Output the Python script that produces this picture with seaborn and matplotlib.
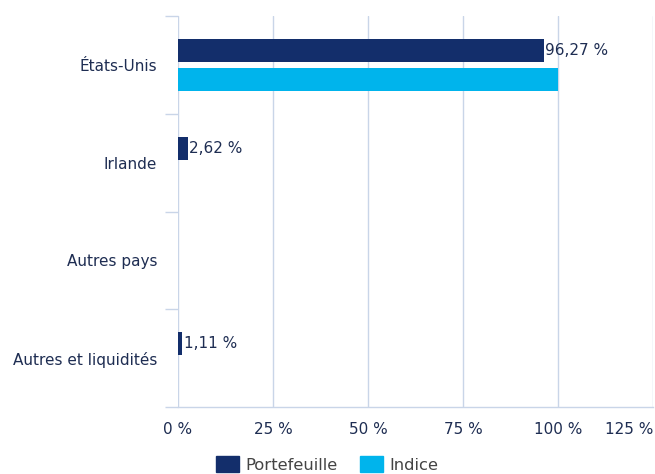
import matplotlib
matplotlib.use("Agg")
import matplotlib.pyplot as plt
import pandas as pd
import seaborn as sns

countries = ["États-Unis", "Irlande", "Autres pays", "Autres et liquidités"]
portefeuille = [96.27, 2.62, 0.0, 1.11]
indice = [100.0, 0.0, 0.0, 0.0]
series_names = ["Portefeuille", "Indice"]
x_ticks = [0, 25, 50, 75, 100, 125]

NAVY = "#132e6b"
CYAN = "#00b4ec"
TEXT = "#1e2d52"
GRID = "#c9d5e8"
FS = 11

sns.set_style("white")
plt.rcParams["font.family"] = ["DejaVu Sans"]

df = pd.DataFrame({
    "Pays": countries * 2,
    "Valeur": portefeuille + indice,
    "Série": [series_names[0]] * len(countries) + [series_names[1]] * len(countries),
})

fig = plt.figure(figsize=(6.55, 4.74), dpi=100)
ax = fig.add_axes([178 / 655, 1 - 407 / 474, 475 / 655, 391 / 474])

sns.barplot(data=df, y="Pays", x="Valeur", hue="Série", orient="h",
            palette=[NAVY, CYAN], width=0.59, gap=0.19, saturation=1,
            linewidth=0, legend=False, ax=ax)

ax.set_xlim(0, 125)
ax.set_ylim(3.5, -0.5)
ax.set_xticks(x_ticks)
ax.set_xticklabels([f"{t} %" for t in x_ticks])
ax.set_xlabel("")
ax.set_ylabel("")

ax.grid(axis="x", color=GRID, linewidth=1)
ax.grid(axis="y", visible=False)
ax.set_axisbelow(True)
for side in ["top", "right", "left"]:
    ax.spines[side].set_visible(False)
ax.spines["bottom"].set_color(GRID)
ax.spines["bottom"].set_linewidth(1)

# category boundaries drawn as short outward ticks
ax.set_yticks([i - 0.5 for i in range(len(countries) + 1)], minor=True)
ax.tick_params(axis="y", which="minor", left=True, length=9.5, width=1, color=GRID)
ax.tick_params(axis="y", which="major", length=0, pad=15, labelsize=FS, labelcolor=TEXT)
ax.tick_params(axis="x", length=0, pad=11, labelsize=FS, labelcolor=TEXT)

last = ax.get_xticklabels()[-1]
last.set_horizontalalignment("right")

labels = [(f"{v:.2f}".replace(".", ",") + " %") if v > 0 else "" for v in portefeuille]
ax.bar_label(ax.containers[0], labels=labels, padding=1, fontsize=FS, color=TEXT)

handles = [plt.Rectangle((0, 0), 1, 1, color=c) for c in [NAVY, CYAN]]
fig.legend(handles, series_names, loc="lower center", bbox_to_anchor=(0.5, -0.028),
           ncol=2, frameon=False, fontsize=11.8, labelcolor="#444444",
           handlelength=1.4, handleheight=1.05, handletextpad=0.4, columnspacing=1.35)

fig.savefig("out.png", dpi=100)
